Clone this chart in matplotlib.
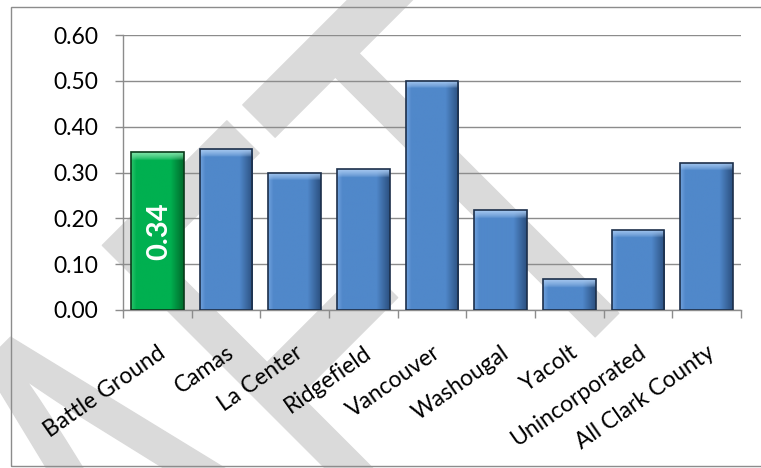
import numpy as np
import matplotlib
matplotlib.use('Agg')
import matplotlib.pyplot as plt
from matplotlib.patches import Rectangle, PathPatch
from matplotlib.textpath import TextPath
from matplotlib.font_manager import FontProperties
from matplotlib.transforms import Affine2D

plt.rcParams['font.family'] = ['Lato', 'DejaVu Sans']

# data
areas = ['Battle Ground', 'Camas', 'La Center', 'Ridgefield', 'Vancouver',
         'Washougal', 'Yacolt', 'Unincorporated', 'All Clark County']
values = [0.344, 0.351, 0.300, 0.307, 0.500, 0.218, 0.067, 0.175, 0.321]
highlight = 'Battle Ground'
yticks = [0.0, 0.1, 0.2, 0.3, 0.4, 0.5, 0.6]

W, H = 761, 468
fig = plt.figure(figsize=(W / 100, H / 100), dpi=100)
fig.patch.set_facecolor('white')

# light grey "DRAFT" watermark behind everything
fp = FontProperties(family='Liberation Sans')
tp = TextPath((0, 0), 'DRAFT', size=1, prop=fp)
t_ext = TextPath((0, 0), 'T', size=1, prop=fp).get_extents()
full_ext = tp.get_extents()
t_center = full_ext.x1 - (t_ext.x1 - t_ext.x0) / 2
sy = 430 / 0.716
sx = sy * 0.6
aff = (Affine2D().translate(-t_center, 0).scale(sx, sy)
       .rotate_deg(45).translate(607, H - 325))
wm = PathPatch(tp, transform=aff, facecolor='#dadada', edgecolor='#dadada',
               lw=1, joinstyle='round', zorder=-2)
fig.add_artist(wm)

fig.add_artist(Rectangle((11 / W, 2 / H), 1, (466 - 7) / H, transform=fig.transFigure,
                         fill=False, edgecolor='#8c8c8c', lw=1, zorder=-1))

ax = fig.add_axes([123 / W, 1 - 310 / H, (741 - 123) / W, (310 - 35) / H])
ax.set_facecolor('none')

x = np.arange(len(areas))
blue = dict(base='#5088ca', light='#6fa0dc', dark='#2b5080', top='#a6c8f0', edge='#1c2f4a')
green = dict(base='#00b050', light='#2ac46b', dark='#006b2c', top='#80e4a9', edge='#0a3a1a')
styles = [green if a == highlight else blue for a in areas]

bars = ax.bar(x, values, width=0.77, color=[s['base'] for s in styles], lw=0, zorder=2)


def rgb(c):
    return np.array(matplotlib.colors.to_rgb(c))


def shade(patch, st):
    x0, w, h = patch.get_x(), patch.get_width(), patch.get_height()
    t = np.linspace(0, 1, 80)
    stops = [0, 0.1, 0.75, 1]
    cs = np.array([rgb(st['light']), rgb(st['base']), rgb(st['base']), rgb(st['dark'])])
    row = np.stack([np.interp(t, stops, cs[:, k]) for k in range(3)], axis=1)
    n = 300
    img = np.repeat(row[None], n, axis=0)
    k = max(2, int(round(n * 0.018 / h)))
    ramp = np.linspace(1, 0, k)[:, None, None] ** 0.7
    img[:k] = img[:k] * (1 - ramp) + rgb(st['top']) * ramp
    im = ax.imshow(img, extent=[x0, x0 + w, 0, h], origin='upper', aspect='auto',
                   interpolation='bilinear', zorder=2.5)
    im.set_clip_path(patch)


for b, st in zip(bars, styles):
    shade(b, st)

ax.bar(x, values, width=0.77, facecolor='none', edgecolor=[s['edge'] for s in styles],
       lw=1.2, zorder=3)

for xi, v, a in zip(x, values, areas):
    if a == highlight:
        ax.text(xi + 0.03, v / 2, f'{v:.2f}', rotation=90, ha='center', va='center',
                color='white', fontweight='bold', fontsize=21, zorder=4)

ax.set_xlim(-0.5, len(areas) - 0.5)
ax.set_ylim(0, 0.6)
ax.set_yticks(yticks)
ax.set_yticklabels([f'{v:.2f}' for v in yticks])
ax.yaxis.grid(True, color='#8c8c8c', lw=1)
ax.set_axisbelow(True)

ax.set_xticks(x)
ax.set_xticklabels(areas, rotation=35, ha='right', va='top', rotation_mode='anchor')
ax.set_xticks(np.arange(-0.5, len(areas)), minor=True)
ax.tick_params(axis='x', which='major', length=0, pad=23, labelsize=16.5)
ax.tick_params(axis='x', which='minor', length=6, color='#8c8c8c', width=1)
ax.tick_params(axis='y', length=6, color='#8c8c8c', width=1, pad=12, labelsize=16.5)

for s in ['top', 'right']:
    ax.spines[s].set_visible(False)
for s in ['left', 'bottom']:
    ax.spines[s].set_color('#8c8c8c')
    ax.spines[s].set_linewidth(1)

fig.savefig('out.png', dpi=100)
